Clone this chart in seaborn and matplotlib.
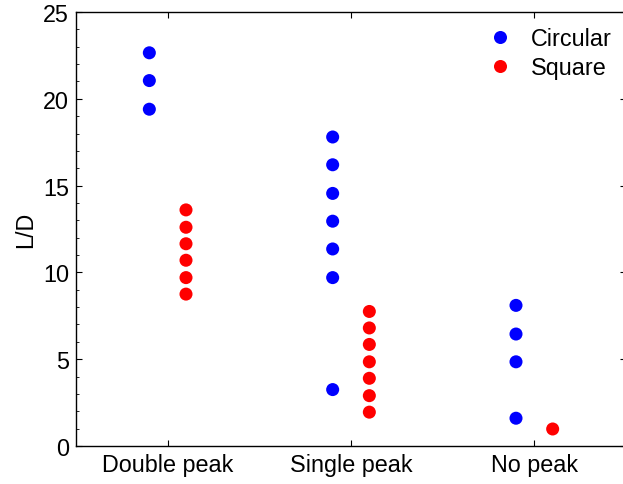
import matplotlib
matplotlib.use("Agg")
import matplotlib.pyplot as plt
import seaborn as sns
import pandas as pd
from matplotlib.ticker import MultipleLocator

# ---- data ----
categories = ["Double peak", "Single peak", "No peak"]
series_names = ["Circular", "Square"]
circular_double = [22.65, 21.05, 19.4]
circular_single = [17.8, 16.2, 14.55, 12.95, 11.35, 9.7, 3.25]
circular_none = [8.1, 6.45, 4.85, 1.6]
square_double = [13.6, 12.6, 11.65, 10.7, 9.7, 8.75]
square_single = [7.75, 6.8, 5.85, 4.85, 3.9, 2.9, 1.95]
square_none = [0.98]
y_ticks = [0, 5, 10, 15, 20, 25]
y_label = "L/D"

# ---- style ----
offsets = {"Circular": -0.1, "Square": 0.1}
colors = {"Circular": "#0000ff", "Square": "#ff0000"}

rows = []
groups = {
    "Circular": [circular_double, circular_single, circular_none],
    "Square": [square_double, square_single, square_none],
}
for name in series_names:
    for i, vals in enumerate(groups[name]):
        for v in vals:
            rows.append({"series": name, "cat": i, "x": i + offsets[name], "L/D": v})
df = pd.DataFrame(rows)

sns.set_style("ticks", {"text.color": "black", "axes.labelcolor": "black",
                        "xtick.color": "black", "ytick.color": "black",
                        "axes.edgecolor": "black"})
plt.rcParams["font.family"] = ["Liberation Sans", "DejaVu Sans"]
FS = 16.8

fig = plt.figure(figsize=(6.23, 4.85), dpi=100)
ax = fig.add_axes([76 / 623, 38 / 485, (626 - 76) / 623, (447 - 13) / 485])

sns.scatterplot(data=df, x="x", y="L/D", hue="series", hue_order=series_names,
                palette=colors, s=88, linewidth=0, ax=ax, legend=True)

ax.set_xlim(-0.5, 2.5)
ax.set_ylim(0, 25)
ax.set_xticks(range(len(categories)))
ax.set_xticklabels(categories, fontsize=FS, color="black")
ax.set_yticks(y_ticks)
ax.set_yticklabels([str(t) for t in y_ticks], fontsize=FS, color="black")
ax.yaxis.set_minor_locator(MultipleLocator(1))
ax.set_xlabel("")
ax.set_ylabel(y_label, fontsize=FS, labelpad=4, color="black")

for sp in ax.spines.values():
    sp.set_visible(True)
    sp.set_linewidth(1.0)
    sp.set_color("black")

ax.tick_params(axis="both", which="major", direction="in", length=4, width=0.8,
               color="black", pad=5)
ax.tick_params(axis="y", which="minor", direction="in", length=2, width=0.6,
               left=True, right=False)
ax.tick_params(axis="x", which="both", top=True)
ax.tick_params(axis="y", which="major", right=True)

handles, labels = ax.get_legend_handles_labels()
leg = ax.legend(handles, labels, loc="upper left", frameon=False, fontsize=FS,
                bbox_to_anchor=(489 / 623, 1 - 28 / 485), bbox_transform=fig.transFigure,
                borderpad=0, borderaxespad=0, handlelength=0.95, handletextpad=0.85,
                labelspacing=0.25, markerscale=1.0)
for t in leg.get_texts():
    t.set_color("black")

fig.savefig("out.png", dpi=100)
